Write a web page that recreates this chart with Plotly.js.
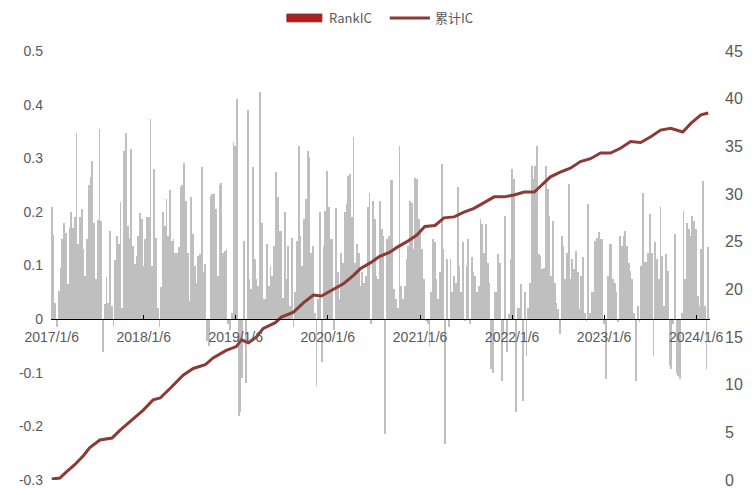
<!DOCTYPE html>
<html><head><meta charset="utf-8">
<script src="https://cdn.plot.ly/plotly-3.0.1.min.js"></script>
<style>html,body{margin:0;padding:0;background:#fff}#chart{width:753px;height:495px}</style>
</head><body><div id="chart"></div>
<script>
const startDate = '2017-01-06';
const rankIC = [
0.21,0.157,0.03,-0.015,0.053,0.095,0.15,0.18,0.16,0.065,
0.17,0.20,0.17,0.19,0.347,0.14,0.19,0.205,0.13,0.08,
0.15,0.25,0.265,0.295,0.18,0.075,0.185,0.355,0.183,-0.062,
0.028,0.078,0.03,0.165,0.025,-0.012,0.11,0.155,0.14,0.218,
0.02,0.314,0.348,0.174,0.152,0.317,0.137,0.103,0.118,0.155,
0.197,0.187,0.10,0.15,0.19,0.19,0.374,0.10,0.28,0.152,
0.02,-0.015,0.06,0.2,0.174,0.224,0.155,0.24,0.146,0.15,
0.124,0.124,0.134,0.246,0.25,0.292,0.22,0.124,0.034,0.227,
0.159,0.10,0.068,0.118,0.121,0.283,0.087,0.103,-0.04,-0.05,
0.23,0.233,0.233,
0.205,0.08,0.25,0.254,0.124,0.127,0.13,-0.01,-0.02,0.012,
0.33,0.323,0.41,-0.18,-0.174,-0.11,0.146,-0.12,0.39,0.075,
0.056,0.283,0.112,0.075,0.062,0.423,0.18,0.037,0.037,0.14,
0.062,0.1,0.08,0.137,0.274,0.227,0.165,0.165,0.04,0.2,
0.075,0.137,0.025,0.152,-0.015,0.05,0.146,0.323,0.155,0.1,
0.187,0.224,0.314,0.302,0.124,0.137,0.012,-0.124,0.037,0.2,
-0.08,0.137,0.202,0.277,0.21,0.15,0.15,-0.02,0.208,0.087,
0.037,0.124,0.105,0.2,0.214,0.267,0.27,0.19,0.339,0.105,
0.14,0.124,0.062,0.087,0.068,0.08,0.21,0.236,-0.01,0.22,
0.187,
0.08,0.075,0.22,0.168,0.155,-0.215,0.15,0.155,0.26,0.26,0.056,
0.037,0.02,0.323,0.062,0.037,
0.062,0.112,0.137,0.22,0.217,0.13,0.264,0.261,0.187,0.162,0.13,0.075,
-0.003,-0.01,-0.05,0.05,0.15,0.143,0.075,0.037,0.087,0.289,0.13,-0.233,0.112,-0.015,0.112,
0.05,0.08,0.068,0.246,0.1,0.05,0.143,-0.003,0.1,0.15,-0.01,0.115,0.087,0.08,0.05,0.062,0.187,0.177,0.124,0.177,0.105,0.068,-0.093,-0.1,0.05,0.05,0.121,0.105,-0.115,-0.03,0.193,-0.062,0.01,0.112,0.28,0.261,-0.174,0.02,0.02,0.065,-0.152,0.05,
-0.068,0.02,0.068,0.286,0.261,0.286,0.323,
0.121,0.118,0.093,0.096,0.286,0.242,0.193,0.08,0.183,0.068,0.031,0.019,-0.028,0.155,0.137,0.075,0.124,0.252,0.075,0.112,0.093,0.127,0.087,
0.019,0.08,0.115,
0.012,-0.003,0.215,0.012,0.05,0.05,0.146,0.152,0.162,0.149,0.149,-0.01,-0.112,0.08,0.14,0.14,
0.075,0.068,0.05,-0.006,0.155,0.137,0.155,0.165,0.137,0.105,0.09,0.075,0.012,-0.115,0.025,-0.005,0.1,0.236,0.106,0.106,0.124,0.196,0.124,-0.068,0.143,0.112,0.075,0.21,0.118,0.025,0.121,0.09,-0.087,-0.093,-0.01,0.158,-0.1,-0.106,-0.112,0.012,0.202,0.075,0.18,0.168,0.155,
0.193,0.183,0.168,0.043,0.025,0.13,0.258,0.025,-0.093,0.134
];
const cumDates = ['2017-01-06','2017-02-07','2017-03-03','2017-04-07','2017-05-13','2017-06-06','2017-07-16','2017-09-02','2017-10-03','2017-11-20',
'2018-01-03','2018-02-12','2018-03-12','2018-04-20','2018-06-11','2018-07-21','2018-09-07','2018-10-08','2018-11-29',
'2019-01-08','2019-01-28','2019-02-25','2019-03-29','2019-04-25','2019-06-12','2019-07-06','2019-08-23','2019-10-02','2019-11-10','2019-12-12',
'2020-01-17','2020-02-10','2020-03-09','2020-04-18','2020-05-15','2020-06-24','2020-07-26','2020-09-08','2020-10-06','2020-11-15','2020-12-24',
'2021-01-25','2021-03-06','2021-04-11','2021-05-21','2021-06-29','2021-08-08','2021-09-17','2021-10-27','2021-12-05',
'2022-01-14','2022-02-23','2022-04-04','2022-04-16','2022-05-06','2022-06-07','2022-07-16','2022-08-25','2022-10-04','2022-11-13','2022-12-23',
'2023-01-31','2023-03-12','2023-04-21','2023-05-31','2023-07-10','2023-08-18','2023-09-27','2023-11-14','2023-12-16',
'2024-01-25','2024-02-23'];
const cumIC = [0.1,0.2,0.8,1.6,2.6,3.4,4.2,4.4,5.2,6.3,
7.3,8.4,8.6,9.6,11.0,11.7,12.1,12.8,13.6,
14.0,14.7,14.4,15.0,15.9,16.5,17.1,17.6,18.6,19.4,19.3,
19.8,20.2,20.6,21.5,22.2,22.8,23.4,23.9,24.4,25.0,25.7,
26.6,26.7,27.5,27.6,28.1,28.5,29.1,29.7,29.7,
29.9,30.2,30.2,30.5,31.0,31.8,32.3,32.7,33.4,33.7,34.3,
34.3,34.8,35.5,35.4,36.0,36.7,36.9,36.5,37.4,
38.3,38.5];
const xTickVals = ['2017-01-06','2018-01-06','2019-01-06','2020-01-06','2021-01-06','2022-01-06','2023-01-06','2024-01-06'];
const xTickText = ['2017/1/6','2018/1/6','2019/1/6','2020/1/6','2021/1/6','2022/1/6','2023/1/6','2024/1/6'];
const yTickVals = [-0.3,-0.2,-0.1,0,0.1,0.2,0.3,0.4,0.5];
const yTickText = ['-0.3','-0.2','-0.1','0','0.1','0.2','0.3','0.4','0.5'];
const y2TickVals = [0,5,10,15,20,25,30,35,40,45];

function weekDates(start, n){
  const d0 = Date.parse(start + 'T00:00:00Z');
  const out = [];
  for (let i = 0; i < n; i++){
    out.push(new Date(d0 + i*7*86400000).toISOString().slice(0,10));
  }
  return out;
}
const barDates = weekDates(startDate, rankIC.length);

const font = 'Liberation Sans, Arial, sans-serif';
const traces = [
  {type:'bar', name:'RankIC', x:barDates, y:rankIC, marker:{color:'#BFBFBF', line:{width:0}}, hoverinfo:'skip'},
  {type:'scatter', mode:'lines', name:'累计IC', x:cumDates, y:cumIC, yaxis:'y2', line:{color:'#8B3A36', width:3}}
];
const layout = {
  width:753, height:495,
  margin:{l:51, r:43, t:51, b:15},
  paper_bgcolor:'#fff', plot_bgcolor:'#fff',
  showlegend:false,
  bargap:0,
  xaxis:{type:'date', range:['2017-01-03','2024-03-01'], anchor:'free', position:0.375,
    showline:true, linecolor:'#000', linewidth:1, ticks:'inside', ticklen:4, tickcolor:'#000',
    tickvals:xTickVals, ticktext:xTickText, tickfont:{family:font, size:14, color:'#595959'},
    ticklabelstandoff:5, showgrid:false, zeroline:false},
  yaxis:{range:[-0.3,0.5], tickvals:yTickVals, ticktext:yTickText, showgrid:false, zeroline:false,
    showline:false, ticks:'', tickfont:{family:font, size:14, color:'#595959'}, ticklabelstandoff:7},
  yaxis2:{overlaying:'y', side:'right', range:[0,45], tickvals:y2TickVals, showgrid:false, zeroline:false,
    showline:false, ticks:'', tickfont:{family:font, size:16, color:'#595959'}, ticklabelstandoff:14},
  shapes:[
    {type:'rect', xref:'paper', yref:'paper', x0:0.358, x1:0.411, y0:1.068, y1:1.086, fillcolor:'#B01E1E', line:{color:'#7a2a2a', width:1}},
    {type:'line', xref:'paper', yref:'paper', x0:0.514, x1:0.575, y0:1.077, y1:1.077, line:{color:'#8B3A36', width:3}}
  ],
  annotations:[
    {xref:'paper', yref:'paper', x:0.419, y:1.077, xanchor:'left', yanchor:'middle', showarrow:false, text:'RankIC', font:{family:'Noto Sans CJK SC', size:13, color:'#595959'}},
    {xref:'paper', yref:'paper', x:0.580, y:1.077, xanchor:'left', yanchor:'middle', showarrow:false, text:'累计IC', font:{family:'Noto Sans CJK SC', size:13, color:'#595959'}}
  ]
};
Plotly.newPlot('chart', traces, layout, {displayModeBar:false, staticPlot:true});
</script>
</body></html>
